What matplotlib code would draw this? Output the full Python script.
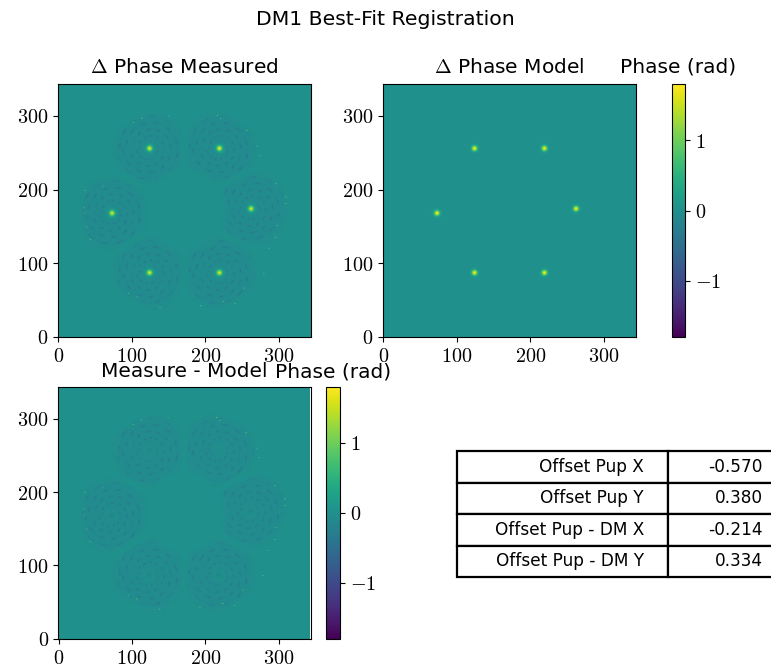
import numpy as np
import matplotlib
matplotlib.use("Agg")
import matplotlib.pyplot as plt
from matplotlib.ticker import FuncFormatter, FixedLocator

plt.rcParams['mathtext.fontset'] = 'cm'
plt.rcParams['font.family'] = ['DejaVu Sans']

# ---- data ----
n_pix = 344
act_x = [124, 219, 73, 262, 124, 219]
act_y = [256, 256, 168, 174, 87, 87]
meas_amp = [1.65, 1.7, 1.6, 1.6, 1.65, 1.65]
model_amp = [1.8, 1.8, 1.8, 1.8, 1.8, 1.8]
spot_sigma = 2.6
pupil_cx, pupil_cy = 172, 172
speckle_x = [102, 113, 216, 220, 256, 270, 274, 295, 309, 309, 297, 295, 279, 252,
             224, 193, 138, 107, 95, 36, 34, 38, 43, 36, 150, 240, 60, 286]
speckle_y = [291, 297, 301, 297, 280, 259, 246, 208, 190, 181, 151, 135, 86, 66,
             48, 42, 40, 54, 59, 199, 176, 149, 132, 167, 300, 45, 205, 120]
speckle_val = [0.9, 1.0, 1.1, 0.9, 1.0, 0.8, 0.9, 1.0, 1.1, 0.9, 0.8, 1.0, 0.9, 1.0,
               1.1, 0.9, 1.0, 1.0, 0.9, 1.0, 0.8, 1.0, 0.9, 0.8, 0.7, 0.8, 0.7, 0.8]
vlim = 1.8

table_rows = ["Offset Pup X", "Offset Pup Y", "Offset Pup - DM X", "Offset Pup - DM Y"]
table_vals = ["-0.570", "0.380", "-0.214", "0.334"]

# ---- build images ----
yy, xx = np.mgrid[0:n_pix, 0:n_pix].astype(float)
model = np.zeros((n_pix, n_pix))
spots_meas = np.zeros((n_pix, n_pix))
dist_list = []
for x0, y0, am, ao in zip(act_x, act_y, meas_amp, model_amp):
    d2 = (xx - x0) ** 2 + (yy - y0) ** 2
    model += ao * np.exp(-d2 / (2 * spot_sigma ** 2))
    spots_meas += am * np.exp(-d2 / (2 * spot_sigma ** 2))
    dist_list.append(np.sqrt(d2))
dist_arr = np.array(dist_list)
near = np.argmin(dist_arr, axis=0)
dsort = np.sort(dist_arr, axis=0)
dmin, d2nd = dsort[0], dsort[1]
ax_n = np.array(act_x, float)[near]
ay_n = np.array(act_y, float)[near]
phi = np.arctan2(yy - ay_n, xx - ax_n)

rp = np.hypot(xx - pupil_cx, yy - pupil_cy)
window = (np.clip((52 - dmin) / 12, 0, 1) * np.clip((rp - 52) / 10, 0, 1)
          * np.clip((142 - rp) / 6, 0, 1) * np.clip((dmin - 6) / 6, 0, 1)
          * np.clip((d2nd - dmin - 6) / 8, 0, 1))
arcs = np.clip(np.sin(0.7 * dmin + 1.5 * phi), 0, None) ** 4
dashes = np.clip(np.sin(13.0 * phi + 0.45 * dmin) + 0.7 * np.sin(1.7 * xx - 0.9 * yy), 0, None)
resid = window * (-0.07 - 0.3 * arcs * dashes)
for sx, sy, sv in zip(speckle_x, speckle_y, speckle_val):
    resid[sy, sx] = sv
    resid[sy, sx + 1] = sv * 0.7
measured = spots_meas + resid
residual = measured - model

# ---- figure ----
W, H = 771, 672
fig = plt.figure(figsize=(W / 100, H / 100), dpi=100)


def rect(l, t, w, h):
    return [l / W, 1 - (t + h) / H, w / W, h / H]


fmt = FuncFormatter(lambda v, p: r'$%g$' % v if v >= 0 else r'$-%g$' % (-v))
ax1 = fig.add_axes(rect(58, 84, 253, 253))
ax2 = fig.add_axes(rect(383, 84, 253, 253))
cax2 = fig.add_axes(rect(672, 84, 13, 253))
ax3 = fig.add_axes(rect(58, 387, 253, 252))
cax3 = fig.add_axes(rect(326, 387, 14, 252))

ims = []
for ax, img, title, pad in [(ax1, measured, r'$\Delta$ Phase Measured', 8),
                            (ax2, model, r'$\Delta$ Phase Model', 8),
                            (ax3, residual, 'Measure - Model', 7)]:
    im = ax.imshow(img, origin='lower', cmap='viridis', vmin=-vlim, vmax=vlim)
    ax.set_title(title, fontsize=14.5, pad=pad)
    ax.xaxis.set_major_locator(FixedLocator([0, 100, 200, 300]))
    ax.yaxis.set_major_locator(FixedLocator([0, 100, 200, 300]))
    ax.xaxis.set_major_formatter(fmt)
    ax.yaxis.set_major_formatter(fmt)
    ax.tick_params(labelsize=14.5)
    ims.append(im)

for cax, im, pad in [(cax2, ims[1], 8), (cax3, ims[2], 7)]:
    cb = fig.colorbar(im, cax=cax)
    cb.set_ticks([-1, 0, 1])
    cb.ax.yaxis.set_major_formatter(fmt)
    cb.ax.tick_params(labelsize=14.5)
    cb.ax.set_title('Phase (rad)', fontsize=14.5, pad=pad)

fig.suptitle('DM1 Best-Fit Registration', fontsize=14.7, x=0.5, y=0.985)

# table: grid drawn by matplotlib's table, text placed inside each cell
tax = fig.add_axes(rect(457, 451, 317, 126))
tax.axis('off')
tbl = tax.table(cellText=[["", ""] for _ in table_rows],
                colWidths=[211, 106], bbox=[0, 0, 1, 1])
for cell in tbl.get_celld().values():
    cell.set_linewidth(1.6)
col0_right = 187 / 317
col1_right = 306 / 317
nrow = len(table_rows)
for i, (name, val) in enumerate(zip(table_rows, table_vals)):
    yc = 1 - (i + 0.5) / nrow
    tax.text(col0_right, yc, name, ha='right', va='center', fontsize=12.2,
             transform=tax.transAxes)
    tax.text(col1_right, yc, val, ha='right', va='center', fontsize=12.2,
             transform=tax.transAxes)

fig.savefig('out.png', dpi=100)
